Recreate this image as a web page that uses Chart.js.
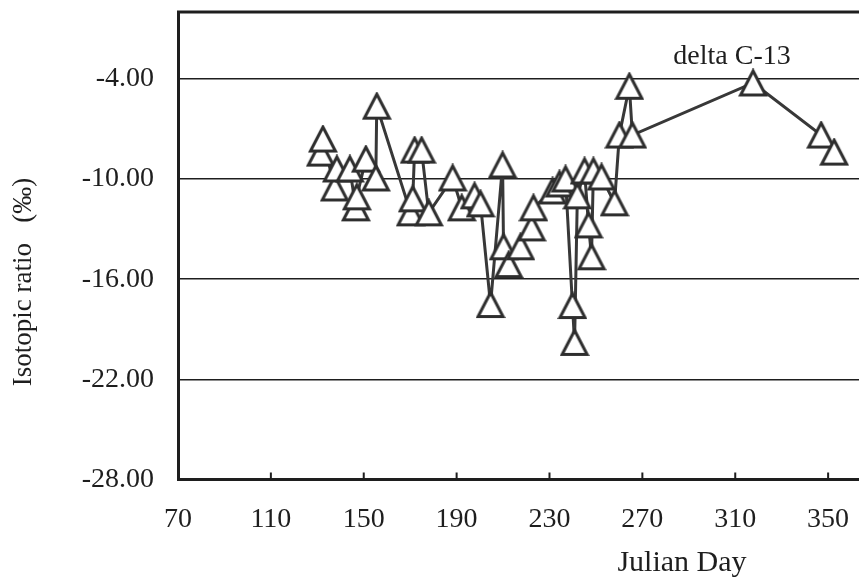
<!DOCTYPE html>
<html>
<head>
<meta charset="utf-8">
<script src="https://cdn.jsdelivr.net/npm/chart.js@4/dist/chart.umd.min.js"></script>
<style>
  html, body { margin: 0; padding: 0; background: #fff; }
  #wrap { width: 859px; height: 583px; }
</style>
</head>
<body>
<div id="wrap"><canvas id="isoChart"></canvas></div>
<script>
// delta C-13 samples, in the order they are joined by the line
const days = [131.5, 132.4, 137.5, 138.4, 144.0, 146.6, 147.0, 150.9, 155.2, 155.6,
  170.2, 171.1, 171.9, 174.9, 178.0, 188.3, 192.2, 197.7, 200.3, 204.6,
  209.8, 210.2, 212.4, 217.5, 222.3, 223.1, 231.3, 234.3, 236.9, 239.9,
  240.8, 242.0, 245.1, 246.8, 248.1, 248.9, 252.4, 258.0, 260.1, 264.4,
  265.7, 317.7, 347.0, 352.6];
const ratios = [-8.45, -7.61, -10.54, -9.40, -9.40, -11.73, -11.07, -8.81, -9.94, -5.64,
  -12.03, -11.19, -8.27, -8.27, -12.03, -9.94, -11.73, -11.01, -11.49, -17.52,
  -9.16, -14.06, -15.13, -14.06, -12.93, -11.73, -10.72, -10.30, -10.00, -17.58,
  -19.79, -11.01, -9.52, -12.75, -14.66, -9.52, -9.88, -11.43, -7.37, -4.45,
  -7.37, -4.25, -7.37, -8.39];

const xTicks = [70, 110, 150, 190, 230, 270, 310, 350];
const yTicks = [-28, -22, -16, -10, -4];
const seriesName = 'delta C-13';
const xTitle = 'Julian Day';
const yTitle = 'Isotopic ratio\u00a0\u00a0\u00a0(‰)';

const serif = '"Liberation Serif", "Times New Roman", serif';
const ink = '#1e1e1e';

// open triangle marker like the spreadsheet one
function triangleMarker() {
  const c = document.createElement('canvas');
  c.width = 30; c.height = 29;
  const g = c.getContext('2d');
  g.beginPath();
  g.moveTo(15, 2.5);
  g.lineTo(27.5, 26.5);
  g.lineTo(2.5, 26.5);
  g.closePath();
  g.fillStyle = '#fff';
  g.fill();
  g.lineWidth = 3;
  g.strokeStyle = '#2e2e2e';
  g.stroke();
  return c;
}

const frame = {
  id: 'frame',
  afterDraw(chart) {
    const { ctx, chartArea: a, scales: { x } } = chart;
    ctx.save();
    ctx.strokeStyle = ink;
    ctx.lineWidth = 3;
    ctx.beginPath();
    ctx.moveTo(a.left - 1, a.top);
    ctx.lineTo(a.right, a.top);
    ctx.stroke();

    ctx.lineWidth = 2;
    ctx.beginPath();
    x.ticks.forEach(t => {
      const px = x.getPixelForValue(t.value);
      ctx.moveTo(px, a.bottom);
      ctx.lineTo(px, a.bottom - 7);
    });
    ctx.stroke();

    ctx.fillStyle = ink;
    ctx.textAlign = 'center';
    ctx.textBaseline = 'middle';
    ctx.font = '30px ' + serif;
    ctx.fillText(xTitle, 682, 563);
    ctx.font = '28px ' + serif;
    ctx.fillText(seriesName, 732, 57);

    ctx.translate(24, 282);
    ctx.rotate(-Math.PI / 2);
    ctx.font = '27px ' + serif;
    ctx.fillText(yTitle, 0, 0);
    ctx.restore();
  }
};

const marker = triangleMarker();

new Chart(document.getElementById('isoChart'), {
  type: 'scatter',
  data: {
    datasets: [{
      label: seriesName,
      data: days.map((d, i) => ({ x: d, y: ratios[i] })),
      showLine: true,
      borderColor: '#383838',
      borderWidth: 3,
      pointStyle: marker,
      pointRadius: 14,
      pointHoverRadius: 14,
      clip: false,
    }],
  },
  options: {
    responsive: true,
    maintainAspectRatio: false,
    animation: false,
    events: [],
    layout: { autoPadding: false, padding: { top: 12, right: 0, left: 0, bottom: 0 } },
    plugins: {
      legend: { display: false },
      tooltip: { enabled: false },
    },
    scales: {
      x: {
        type: 'linear',
        min: 70,
        max: 363.3,
        afterBuildTicks: s => { s.ticks = xTicks.map(v => ({ value: v })); },
        afterFit: s => {
          s.height = 103.5;
          s.paddingLeft = 0;
          s.paddingRight = 0;
        },
        grid: { display: false, drawTicks: false },
        border: { display: true, color: ink, width: 3 },
        ticks: {
          padding: 23,
          color: ink,
          font: { family: serif, size: 28 },
          maxRotation: 0,
          autoSkip: false,
        },
      },
      y: {
        min: -28,
        max: 0,
        afterBuildTicks: s => { s.ticks = yTicks.map(v => ({ value: v })); },
        afterFit: s => {
          s.width = 178;
          s.paddingTop = 0;
          s.paddingBottom = 0;
        },
        grid: { color: ink, lineWidth: 1.4, drawTicks: false },
        border: { display: true, color: ink, width: 3 },
        ticks: {
          padding: 24,
          color: ink,
          font: { family: serif, size: 28 },
          callback: v => v.toFixed(2),
        },
      },
    },
  },
  plugins: [frame],
});
</script>
</body>
</html>
